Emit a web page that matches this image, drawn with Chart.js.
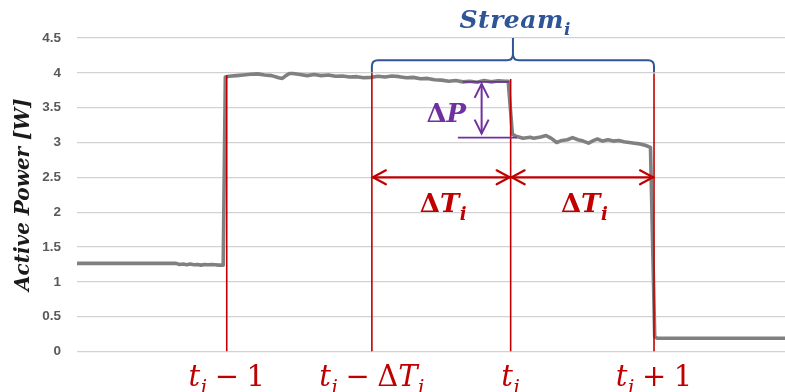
<!DOCTYPE html>
<html>
<head>
<meta charset="utf-8">
<script src="https://cdn.jsdelivr.net/npm/chart.js@4/dist/chart.umd.min.js"></script>
<style>
  html, body { margin: 0; padding: 0; background: #ffffff; }
  #wrap { width: 785px; height: 392px; position: relative; }
</style>
</head>
<body>
<div id="wrap"><canvas id="chart"></canvas></div>
<script>
// Measured active power of one device (time in samples, power in W)
const sampleTimes = [
  0, 28, 29, 30, 31, 32, 33, 34, 35, 36, 37, 38, 39, 40, 41.3,
  41.9, 43, 45, 47, 49, 51, 53, 55, 57, 58, 59, 60, 61, 63, 65,
  67, 69, 71, 73, 75, 77, 79, 81, 83, 85, 87, 89, 91, 93, 95,
  97, 99, 101, 103, 105, 107, 109, 111, 113, 115, 117, 119, 121, 121.8,
  123, 124, 126, 128, 129, 131, 132.5, 134, 135.5, 137, 138.5, 140, 141.5,
  143, 144.5, 146, 147, 148.5, 150, 151.5, 153, 154.5, 156, 157.5, 159,
  160.5, 162, 163.2, 164, 200
];
const activePower = [
  1.265, 1.265, 1.25, 1.255, 1.245, 1.255, 1.245, 1.25, 1.24, 1.25, 1.245, 1.25, 1.245, 1.24, 1.24,
  3.94, 3.95, 3.96, 3.97, 3.98, 3.985, 3.97, 3.96, 3.93, 3.92, 3.96, 3.99, 3.99, 3.975, 3.96,
  3.975, 3.96, 3.97, 3.95, 3.955, 3.94, 3.945, 3.93, 3.935, 3.95, 3.94, 3.955, 3.945, 3.93, 3.935,
  3.915, 3.92, 3.9, 3.895, 3.88, 3.89, 3.87, 3.88, 3.865, 3.89, 3.87, 3.885, 3.88, 3.88,
  3.12, 3.09, 3.06, 3.075, 3.06, 3.08, 3.1, 3.06, 3.0, 3.03, 3.04, 3.07, 3.04,
  3.02, 2.99, 3.03, 3.05, 3.02, 3.04, 3.02, 3.03, 3.01, 3.0, 2.99, 2.98,
  2.96, 2.93, 0.21, 0.19, 0.19
];

// Event markers: t_i - 1, t_i - ΔT_i, t_i, t_i + 1
const eventTimes = [42.3, 83.3, 122.5, 163.0];
const eventTops = [3.97, 4.0, 3.91, 3.99];
const eventLabels = ['t_i − 1', 't_i − ΔT_i', 't_i', 't_i + 1'];

// Power step inside the window and its label
const powerStepTime = 114.3;
const powerStepHigh = 3.87;
const powerStepLow = 3.07;

const yTickMin = 0;
const yTickMax = 4.5;
const yTickStep = 0.5;

const RED = '#c00000';
const BLUE = '#2f5597';
const PURPLE = '#7030a0';
const MATH_FONT = '"DejaVu Serif", "Liberation Serif", serif';

// Draws a small math expression: letters italic, "_x" = subscript, spaces = operator gaps
function mathTokens(str) {
  const out = [];
  for (let i = 0; i < str.length; i++) {
    const c = str[i];
    if (c === '_') { out.push({ c: str[i + 1], sub: true, italic: /[A-Za-z]/.test(str[i + 1]) }); i++; }
    else if (c === ' ') out.push({ space: true });
    else out.push({ c, sub: false, italic: /[A-Za-z]/.test(c) });
  }
  return out;
}
function drawMath(ctx, str, x, y, size, weight, color, align, gap) {
  const toks = mathTokens(str);
  const fontOf = t => `${t.italic ? 'italic ' : ''}${weight} ${t.sub ? Math.round(size * 0.68) : size}px ${MATH_FONT}`;
  let total = 0;
  toks.forEach(t => {
    if (t.space) { t.w = size * (gap || 0.22); }
    else { ctx.font = fontOf(t); t.w = ctx.measureText(t.c).width + (t.italic && !t.sub ? size * 0.02 : 0); }
    total += t.w;
  });
  let cx = align === 'right' ? x - total : (align === 'left' ? x : x - total / 2);
  ctx.save();
  ctx.fillStyle = color;
  ctx.textBaseline = 'alphabetic';
  ctx.textAlign = 'left';
  toks.forEach(t => {
    if (!t.space) {
      ctx.font = fontOf(t);
      ctx.fillText(t.c, cx, t.sub ? y + size * 0.28 : y);
    }
    cx += t.w;
  });
  ctx.restore();
}

function openArrowHead(ctx, x, y, dx, dy, len, half) {
  // dx, dy: unit direction the arrow points to
  const px = -dy, py = dx;
  ctx.beginPath();
  ctx.moveTo(x - dx * len + px * half, y - dy * len + py * half);
  ctx.lineTo(x, y);
  ctx.lineTo(x - dx * len - px * half, y - dy * len - py * half);
  ctx.stroke();
}

const annotationPlugin = {
  id: 'streamAnnotations',
  afterDatasetsDraw(chart) {
    const ctx = chart.ctx;
    const xs = chart.scales.x, ys = chart.scales.y;
    const X = v => xs.getPixelForValue(v);
    const Y = v => ys.getPixelForValue(v);
    const area = chart.chartArea;

    // Curly brace over the stream window
    const bx0 = X(eventTimes[1]), bx1 = X(eventTimes[3]);
    const bmid = (bx0 + bx1) / 2;
    const yEnd = Y(4.01), yBase = Y(4.18), yTip = Y(4.5);
    const r = 6;
    ctx.save();
    ctx.strokeStyle = BLUE;
    ctx.lineWidth = 2;
    ctx.lineJoin = 'round';
    ctx.beginPath();
    ctx.moveTo(bx0, yEnd);
    ctx.lineTo(bx0, yBase + r);
    ctx.quadraticCurveTo(bx0, yBase, bx0 + r, yBase);
    ctx.lineTo(bmid - r, yBase);
    ctx.quadraticCurveTo(bmid, yBase, bmid, yBase - r);
    ctx.lineTo(bmid, yTip);
    ctx.moveTo(bmid, yBase - r);
    ctx.quadraticCurveTo(bmid, yBase, bmid + r, yBase);
    ctx.lineTo(bx1 - r, yBase);
    ctx.quadraticCurveTo(bx1, yBase, bx1, yBase + r);
    ctx.lineTo(bx1, yEnd);
    ctx.stroke();
    ctx.restore();
    drawMath(ctx, 'Stream_i', bmid + 2, yTip - 10, 25, 'bold', BLUE, 'center');

    // ΔT arrows between the markers
    const yArrow = Y(2.5);
    ctx.save();
    ctx.strokeStyle = RED;
    ctx.lineWidth = 2.2;
    ctx.lineCap = 'round';
    for (let k = 1; k <= 2; k++) {
      const a = X(eventTimes[k]) + 1, b = X(eventTimes[k + 1]) - 1;
      ctx.beginPath(); ctx.moveTo(a, yArrow); ctx.lineTo(b, yArrow); ctx.stroke();
      openArrowHead(ctx, a, yArrow, -1, 0, 13, 7);
      openArrowHead(ctx, b, yArrow, 1, 0, 13, 7);
    }
    ctx.restore();
    for (let k = 1; k <= 2; k++) {
      const c = (X(eventTimes[k]) + X(eventTimes[k + 1])) / 2;
      drawMath(ctx, 'ΔT_i', c + 2, yArrow + 35, 26, 'bold', RED, 'center');
    }

    // ΔP arrow
    const ax = X(powerStepTime);
    const yHi = Y(powerStepHigh), yLo = Y(powerStepLow);
    ctx.save();
    ctx.strokeStyle = PURPLE;
    ctx.lineWidth = 1.6;
    ctx.beginPath();
    ctx.moveTo(X(107.6), yLo); ctx.lineTo(X(124.3), yLo);
    ctx.moveTo(X(109), yHi); ctx.lineTo(X(122), yHi);
    ctx.stroke();
    ctx.lineWidth = 2;
    ctx.beginPath(); ctx.moveTo(ax, yHi + 2); ctx.lineTo(ax, yLo - 4); ctx.stroke();
    openArrowHead(ctx, ax, yHi + 2, 0, -1, 14, 7);
    openArrowHead(ctx, ax, yLo - 4, 0, 1, 14, 7);
    ctx.restore();
    drawMath(ctx, 'ΔP', ax - 15, Y(3.30), 26, 'bold', PURPLE, 'right');

    // Marker labels under the axis
    eventTimes.forEach((t, k) => {
      drawMath(ctx, eventLabels[k], X(t), area.bottom + 34, 29, 'normal', RED, 'center', 0.26);
    });
  }
};

const signalDataset = {
  data: sampleTimes.map((t, i) => ({ x: t, y: activePower[i] })),
  borderColor: '#808080',
  borderWidth: 3.6,
  pointRadius: 0,
  tension: 0,
  borderJoinStyle: 'round',
  order: 2
};
const markerDatasets = eventTimes.map((t, k) => ({
  data: [{ x: t, y: 0 }, { x: t, y: eventTops[k] }],
  borderColor: RED,
  borderWidth: 1.6,
  pointRadius: 0,
  order: 1
}));

new Chart(document.getElementById('chart'), {
  type: 'line',
  data: { datasets: [...markerDatasets, signalDataset] },
  options: {
    responsive: true,
    maintainAspectRatio: false,
    animation: false,
    layout: { padding: { top: 38, bottom: 40.5, left: 0, right: 0 } },
    plugins: { legend: { display: false }, tooltip: { enabled: false } },
    scales: {
      x: { type: 'linear', min: 0, max: 200, display: false },
      y: {
        min: yTickMin,
        max: yTickMax,
        ticks: {
          stepSize: yTickStep,
          padding: 16,
          color: '#595959',
          font: { family: '"Liberation Sans", Arial, sans-serif', size: 13.5, weight: 'bold' },
          callback: v => String(Number(v.toFixed(1)))
        },
        grid: { color: '#d2d2d2', lineWidth: 1.3, drawTicks: false },
        border: { display: false },
        title: {
          display: true,
          text: 'Active Power [W]',
          color: '#1a1a1a',
          padding: { top: 12, bottom: 0 },
          font: { family: MATH_FONT, size: 20, style: 'italic', weight: 'bold' }
        },
        afterFit(scale) { scale.width = 77; }
      }
    }
  },
  plugins: [annotationPlugin]
});
</script>
</body>
</html>
